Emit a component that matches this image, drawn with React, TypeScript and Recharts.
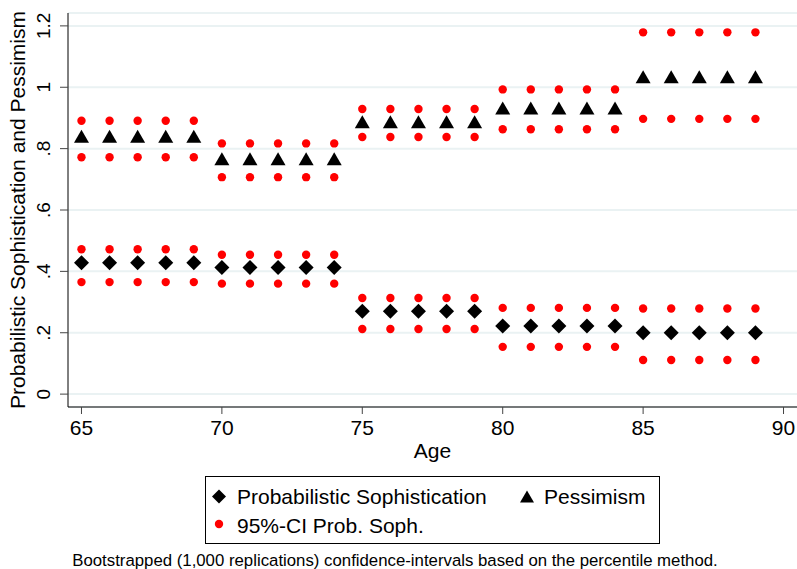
import React from 'react';
import { ScatterChart, Scatter, XAxis, YAxis, CartesianGrid } from 'recharts';

const ages = [65, 66, 67, 68, 69, 70, 71, 72, 73, 74, 75, 76, 77, 78, 79, 80, 81, 82, 83, 84, 85, 86, 87, 88, 89];

const probSoph = [0.428, 0.428, 0.428, 0.428, 0.428, 0.413, 0.413, 0.413, 0.413, 0.413, 0.270, 0.270, 0.270, 0.270, 0.270, 0.222, 0.222, 0.222, 0.222, 0.222, 0.200, 0.200, 0.200, 0.200, 0.200];
const probSophUpper = [0.472, 0.472, 0.472, 0.472, 0.472, 0.454, 0.454, 0.454, 0.454, 0.454, 0.313, 0.313, 0.313, 0.313, 0.313, 0.281, 0.281, 0.281, 0.281, 0.281, 0.279, 0.279, 0.279, 0.279, 0.279];
const probSophLower = [0.365, 0.365, 0.365, 0.365, 0.365, 0.360, 0.360, 0.360, 0.360, 0.360, 0.212, 0.212, 0.212, 0.212, 0.212, 0.154, 0.154, 0.154, 0.154, 0.154, 0.111, 0.111, 0.111, 0.111, 0.111];

const pessimism = [0.839, 0.839, 0.839, 0.839, 0.839, 0.765, 0.765, 0.765, 0.765, 0.765, 0.886, 0.886, 0.886, 0.886, 0.886, 0.931, 0.931, 0.931, 0.931, 0.931, 1.033, 1.033, 1.033, 1.033, 1.033];
const pessUpper = [0.891, 0.891, 0.891, 0.891, 0.891, 0.817, 0.817, 0.817, 0.817, 0.817, 0.929, 0.929, 0.929, 0.929, 0.929, 0.993, 0.993, 0.993, 0.993, 0.993, 1.179, 1.179, 1.179, 1.179, 1.179];
const pessLower = [0.772, 0.772, 0.772, 0.772, 0.772, 0.707, 0.707, 0.707, 0.707, 0.707, 0.838, 0.838, 0.838, 0.838, 0.838, 0.863, 0.863, 0.863, 0.863, 0.863, 0.897, 0.897, 0.897, 0.897, 0.897];

const xTicks = [65, 70, 75, 80, 85, 90];
const yTicks = [0, 0.2, 0.4, 0.6, 0.8, 1, 1.2];
const yTickLabels = ['0', '.2', '.4', '.6', '.8', '1', '1.2'];

const toPoints = (vals: number[]) => ages.map((a, i) => ({ x: a, y: vals[i] }));

const FONT = '"Liberation Sans", Arial, Helvetica, sans-serif';

const Diamond = (props: any) => {
  const { cx, cy } = props;
  const r = 7.5;
  return <polygon points={`${cx},${cy - r} ${cx + r},${cy} ${cx},${cy + r} ${cx - r},${cy}`} fill="#000" />;
};

const Triangle = (props: any) => {
  const { cx, cy } = props;
  return <polygon points={`${cx},${cy - 7} ${cx + 7.5},${cy + 6} ${cx - 7.5},${cy + 6}`} fill="#000" />;
};

const Dot = (props: any) => {
  const { cx, cy } = props;
  return <circle cx={cx} cy={cy} r={4.2} fill="#ff0000" />;
};

const YTick = (props: any) => {
  const { x, y, payload } = props;
  const idx = yTicks.indexOf(payload.value);
  const label = idx >= 0 ? yTickLabels[idx] : String(payload.value);
  return (
    <text x={x} y={y} transform={`rotate(-90 ${x} ${y})`} textAnchor="middle" fontSize={19} fontFamily={FONT} fill="#000">
      {label}
    </text>
  );
};

export default function App() {
  return (
    <div style={{ position: 'absolute', left: 0, top: 0, width: 797, height: 569, background: '#fff', fontFamily: FONT }}>
      <ScatterChart width={797} height={569} margin={{ top: 13, right: 0, left: 0, bottom: 102 }}>
        <CartesianGrid horizontal={true} vertical={false} stroke="#eaf2f3" strokeWidth={2} />
        <XAxis
          type="number"
          dataKey="x"
          domain={[64.52, 90.48]}
          ticks={xTicks}
          allowDataOverflow
          height={60}
          tickSize={7}
          tickMargin={6}
          stroke="#000"
          tick={{ fontSize: 21, fill: '#000', fontFamily: FONT }}
          tickLine={{ stroke: '#444' }}
          label={{ value: 'Age', position: 'insideBottom', offset: 9, fontSize: 21, fill: '#000', fontFamily: FONT }}
        />
        <YAxis
          type="number"
          dataKey="y"
          domain={[-0.042, 1.242]}
          ticks={yTicks}
          allowDataOverflow
          width={68}
          tickSize={8}
          tickMargin={10}
          stroke="#000"
          tick={<YTick />}
          tickLine={{ stroke: '#444' }}
          label={{ value: 'Probabilistic Sophistication and Pessimism', angle: -90, position: 'insideLeft', offset: 18, fontSize: 21, fill: '#000', fontFamily: FONT, style: { textAnchor: 'middle' } }}
        />
        <Scatter data={toPoints(probSophUpper)} shape={<Dot />} isAnimationActive={false} />
        <Scatter data={toPoints(probSophLower)} shape={<Dot />} isAnimationActive={false} />
        <Scatter data={toPoints(pessUpper)} shape={<Dot />} isAnimationActive={false} />
        <Scatter data={toPoints(pessLower)} shape={<Dot />} isAnimationActive={false} />
        <Scatter data={toPoints(probSoph)} shape={<Diamond />} isAnimationActive={false} />
        <Scatter data={toPoints(pessimism)} shape={<Triangle />} isAnimationActive={false} />
      </ScatterChart>
      <div style={{ position: 'absolute', left: 205, top: 476, width: 455, height: 68, border: '1px solid #000', boxSizing: 'border-box', color: '#000' }}>
        <svg width={455} height={68} style={{ position: 'absolute', left: -1, top: -1 }}>
          <polygon points="14,13.5 21,20.5 14,27.5 7,20.5" fill="#000" />
          <polygon points="322,14.5 329,26.5 315,26.5" fill="#000" />
          <circle cx={14} cy={48} r={4.2} fill="#ff0000" />
          <text x={32} y={27.5} fontSize={21} fontFamily={FONT} fill="#000">Probabilistic Sophistication</text>
          <text x={339} y={27.5} fontSize={21} fontFamily={FONT} fill="#000">Pessimism</text>
          <text x={32} y={56.5} fontSize={21} fontFamily={FONT} fill="#000">95%-CI Prob. Soph.</text>
        </svg>
      </div>
      <svg width={797} height={30} style={{ position: 'absolute', left: 0, top: 545 }}>
        <text x={395} y={20.5} textAnchor="middle" fontSize={16.8} fontFamily={FONT} fill="#000">
          Bootstrapped (1,000 replications) confidence-intervals based on the percentile method.
        </text>
      </svg>
    </div>
  );
}
